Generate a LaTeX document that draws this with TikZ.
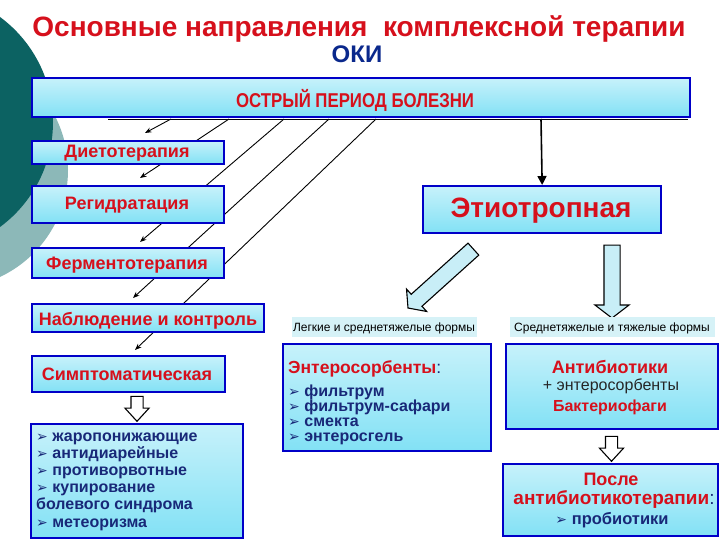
\documentclass[tikz,border=0pt]{standalone}
\usepackage{fontspec}
\setmainfont{Liberation Sans}
\newfontfamily\dejavu{DejaVu Sans}
\usetikzlibrary{shapes.arrows,arrows.meta}
\definecolor{darkteal}{RGB}{12,98,98}
\definecolor{lightteal}{RGB}{140,184,184}
\definecolor{bordblue}{RGB}{0,0,200}
\definecolor{boxc}{RGB}{130,225,245}
\definecolor{redt}{RGB}{214,16,28}
\definecolor{navy}{RGB}{24,40,120}
\definecolor{okiblue}{RGB}{10,40,140}
\definecolor{labfill}{RGB}{214,242,247}
\definecolor{arrfill}{RGB}{200,238,247}
\newcommand\myfs[1]{\fontsize{#1}{#1}\selectfont}
\newcommand\bul{{\dejavu\mdseries\fontsize{14}{14}\selectfont ➢}\ }
\begin{document}
\begin{tikzpicture}[x=1pt,y=-1pt,
 box/.style={draw=bordblue,line width=2.3pt,top color=boxc!45,middle color=white,bottom color=boxc,inner sep=0pt,anchor=north west},
 lab/.style={fill=labfill,inner sep=0pt,anchor=north west},
 rtext/.style={text=redt,font=\bfseries\myfs{18},inner sep=0pt,anchor=base},
 btext/.style={text=navy,font=\bfseries\myfs{16},anchor=base west,inner sep=0pt},
 thinarr/.style={line width=0.9pt,-{Stealth[length=6.5pt,width=5pt]}},
 hollow/.style={single arrow,draw=black,line width=1.1pt,inner xsep=0pt,single arrow head indent=0pt},
]
\useasboundingbox (0,0) rectangle (720,540);
\begin{scope}
\clip (0,0) rectangle (720,540);
\fill[white] (0,0) rectangle (720,540);
\fill[lightteal] (-50,170) circle[radius=118];
\fill[darkteal] (-77.5,122) circle[radius=130.5];
\end{scope}

\node[text=redt,font=\bfseries\myfs{28},anchor=base,inner sep=0pt] (title) at (359,37) {Основные направления\ \ комплексной терапии};
\node[text=okiblue,font=\bfseries\myfs{24},anchor=base,inner sep=0pt] (oki) at (357,63) {ОКИ};

\node[box,minimum width=658,minimum height=39] (acute) at (31,77) {};
\node[rtext,font=\bfseries\myfs{20}] (acutet) at (355,108) {\scalebox{0.84}[1]{ОСТРЫЙ ПЕРИОД БОЛЕЗНИ}};

\coordinate (hl) at (108,119);
\coordinate (hr) at (688,119);
\draw[line width=0.8pt] (hl) -- (hr);
\foreach \n/\sx/\ex/\ey in {1/171/145/133, 2/229/140/178, 3/284/140/242, 4/329/133/298, 5/376/135/350}{
 \coordinate (s\n) at (\sx,119);
 \coordinate (e\n) at (\ex,\ey);
 \draw[thinarr] (s\n) -- (e\n);
}

\node[box,minimum width=192,minimum height=23] (diet) at (31,140) {};
\node[rtext] (dietT) at (127,158) {Диетотерапия};
\node[box,minimum width=192,minimum height=37] (regid) at (31,185) {};
\node[rtext] (regidT) at (127,210) {Регидратация};
\node[box,minimum width=192,minimum height=30] (ferm) at (31,247) {};
\node[rtext] (fermT) at (127,269) {Ферментотерапия};
\node[box,minimum width=232,minimum height=28] (nabl) at (31,303) {};
\node[rtext] (nablT) at (148,325) {Наблюдение и контроль};
\node[box,minimum width=193,minimum height=36] (simpt) at (31,355) {};
\node[rtext] (simptT) at (127,380) {Симптоматическая};

\node[hollow,fill=white,rotate=-90,minimum height=25,inner ysep=5.5pt,single arrow head extend=6pt,single arrow tip angle=85] (a1) at (137,405.5) {};

\node[box,minimum width=212,minimum height=114] (list) at (30,423) {};
\node[btext] (l1) at (36,441) {\bul жаропонижающие};
\node[btext] (l2) at (36,458) {\bul антидиарейные};
\node[btext] (l3) at (36,475) {\bul противорвотные};
\node[btext] (l4) at (36,492) {\bul купирование};
\node[btext] (l5) at (36,509) {болевого синдрома};
\node[btext] (l6) at (36,527) {\bul метеоризма};

\node[box,minimum width=238,minimum height=47] (etio) at (422,185) {};
\node[rtext,font=\bfseries\myfs{28}] (etioT) at (541,218) {Этиотропная};
\coordinate (sv) at (541,119);
\draw[line width=1.6pt,-{Triangle[length=9pt,width=9pt]}] (sv) -- (etio.north);

\node[hollow,fill=arrfill,rotate=-138,minimum height=88,inner ysep=7.5pt,single arrow head extend=7pt,single arrow tip angle=105] (a2) at (443,276.5) {};
\node[hollow,fill=arrfill,rotate=-90,minimum height=73,inner ysep=7.5pt,single arrow head extend=9pt,single arrow tip angle=105] (a3) at (612,278.5) {};

\node[lab,minimum width=185,minimum height=20] (lab1) at (292,317) {};
\node[font=\myfs{12},anchor=base,inner sep=0pt] (lab1T) at (384,331) {Легкие и среднетяжелые формы};
\node[lab,minimum width=205,minimum height=20] (lab2) at (510,317) {};
\node[font=\myfs{12},anchor=base,inner sep=0pt] (lab2T) at (612,331) {Среднетяжелые и тяжелые формы};

\node[box,minimum width=208,minimum height=107] (entero) at (282,343) {};
\node[rtext,anchor=base west,font=\bfseries\myfs{17.5}] (enteroT) at (288,373) {Энтеросорбенты\textcolor{navy}{\mdseries :}};
\node[btext] (m1) at (288,396) {\bul фильтрум};
\node[btext] (m2) at (288,411) {\bul фильтрум-сафари};
\node[btext] (m3) at (288,426) {\bul смекта};
\node[btext] (m4) at (288,441) {\bul энтеросгель};

\node[box,minimum width=212,minimum height=85] (anti) at (505,343) {};
\node[rtext] (antiT) at (610,373) {Антибиотики};
\node[font=\myfs{16},text=black!85,anchor=base,inner sep=0pt] (antiT2) at (611,390) {+ энтеросорбенты};
\node[rtext,font=\bfseries\myfs{16}] (antiT3) at (610,411) {Бактериофаги};

\node[hollow,fill=white,rotate=-90,minimum height=25,inner ysep=5.5pt,single arrow head extend=6pt,single arrow tip angle=85] (a4) at (611.5,445.5) {};

\node[box,minimum width=215,minimum height=72] (posle) at (502,463) {};
\node[rtext,font=\bfseries\myfs{18}] (posleT) at (611,485) {После};
\node[rtext,font=\bfseries\myfs{19}] (posleT2) at (614,504) {антибиотикотерапии\textcolor{navy}{\mdseries :}};
\node[btext,anchor=base,font=\bfseries\myfs{16.5}] (posleT3) at (612,524) {\bul пробиотики};
\end{tikzpicture}
\end{document}
